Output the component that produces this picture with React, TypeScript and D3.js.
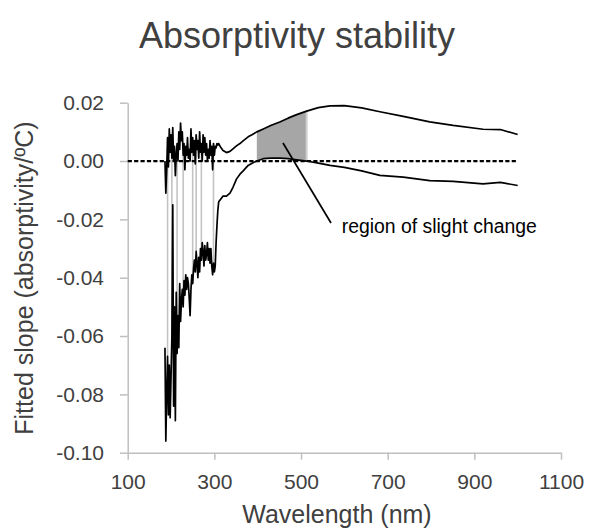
import React, { useEffect, useRef } from "react";
import * as d3 from "d3";

// Wavelength grid (nm)
const wavelengths: number[] = [
  186, 188, 190, 192, 194, 196, 198, 200, 202, 204, 206, 208, 210, 212, 214, 216, 218, 220,
  222, 224, 226, 228, 230, 232, 234, 236, 238, 240, 242, 244, 246, 248, 250, 252, 254, 256,
  258, 260, 262, 264, 266, 268, 270, 272, 274, 276, 278, 280, 282, 284, 286, 288, 290, 292,
  294, 296, 298, 300, 302, 304, 306, 308, 310,
  315, 320, 328, 336, 343, 351, 359, 367, 378, 390, 398, 413, 430, 451, 470, 490, 513, 540,
  567, 600, 640, 682, 736, 797, 851, 920, 960, 1000,
];

// Upper fitted slope (x 0.001 absorptivity/ºC)
const upperSeries: number[] = [
  0.0, -11.0, -3, 8, -2, 11, 3, 9, 1, 11.5, 0, 5, -5, 2, 6, 0, 10, 4,
  13, 7, 10, 2, 6, -3, 5, 2, 8, 1, 4, 0, 11, 3, 8, 2, 7, -1,
  9, 4, 7, 1, 10, 3, 6, 0, 9, 3, 8, 2, 6, 0, 4, 1, 7, 2,
  5, -3, 6, 2, 5, 4.5, 6, 5.5, 6,
  4.6, 3.6, 2.9, 3.3, 4.2, 5.2, 6.0, 7.0, 8.3, 9.3, 10.0, 11.0, 12.2, 13.4, 14.7, 15.9, 17.1, 18.3,
  18.9, 19.0, 18.2, 16.9, 15.3, 13.4, 12.2, 10.9, 10.8, 9.1,
];

// Lower fitted slope (x 0.001 absorptivity/ºC)
const lowerSeries: number[] = [
  -64, -96, -80, -67, -87, -70, -88, -74, -60, -15, -84, -50, -89, -45, -66, -53, -64, -42,
  -55, -48, -44, -50, -41, -46, -39, -44, -40, -42, -47, -53, -44, -39, -42, -37, -34, -38,
  -31, -35, -40, -33, -38, -30, -34, -28, -31, -36, -29, -34, -32, -28, -34, -30, -35, -30,
  -36, -39, -35, -38, -36, -28, -22, -17, -14,
  -13, -12, -12, -11, -9, -6.2, -4.5, -3.3, -1.5, -0.5, 0, 0.8, 1.0, 1.0, 0.8, 0.4, 0, -0.7,
  -1.5, -2.2, -3.4, -4.9, -5.5, -6.7, -7.0, -7.8, -7.3, -8.4,
];

// Wavelengths with drop lines between the two curves
const dropWavelengths: number[] = [192, 202, 214, 228, 250, 258, 270, 298];

// Shaded "region of slight change"
const regionRange: number[] = [398, 513];

const xTicks: number[] = [100, 300, 500, 700, 900, 1100];
const yTicks: number[] = [0.02, 0.0, -0.02, -0.04, -0.06, -0.08, -0.1];

const TITLE = "Absorptivity stability";
const X_TITLE = "Wavelength (nm)";
const Y_TITLE = "Fitted slope (absorptivity/ºC)";
const NOTE = "region of slight change";

const FONT = "'Liberation Sans', Arial, sans-serif";

export default function App() {
  const xAxisRef = useRef<SVGGElement>(null);
  const yAxisRef = useRef<SVGGElement>(null);

  const x = d3.scaleLinear().domain([100, 1100]).range([127.7, 561]);
  const y = d3.scaleLinear().domain([-0.1, 0.02]).range([452.7, 102.7]);

  const pts = wavelengths.map((w, i) => ({
    w,
    u: upperSeries[i] / 1000,
    l: lowerSeries[i] / 1000,
  }));

  const line = d3.line<{ w: number; v: number }>().x((d) => x(d.w)).y((d) => y(d.v));
  const upperPath = line(pts.map((p) => ({ w: p.w, v: p.u }))) || "";
  const lowerPath = line(pts.map((p) => ({ w: p.w, v: p.l }))) || "";

  const regionPts = pts.filter((p) => p.w >= regionRange[0] && p.w <= regionRange[1]);
  const area = d3
    .area<{ w: number; u: number; l: number }>()
    .x((d) => x(d.w))
    .y0((d) => y(d.l))
    .y1((d) => y(d.u));
  const regionPath = area(regionPts) || "";

  const interp = (arr: number[], w: number) => {
    const i = d3.bisectLeft(wavelengths, w);
    if (wavelengths[i] === w) return arr[i] / 1000;
    const w0 = wavelengths[i - 1], w1 = wavelengths[i];
    const t = (w - w0) / (w1 - w0);
    return (arr[i - 1] + t * (arr[i] - arr[i - 1])) / 1000;
  };

  const yFmt = (d: d3.NumberValue) => (+d).toFixed(2);

  useEffect(() => {
    if (xAxisRef.current) {
      const g = d3.select(xAxisRef.current);
      g.selectAll("*").remove();
      g.call(
        d3.axisBottom(x).tickValues(xTicks).tickSize(7).tickSizeOuter(0).tickPadding(14.7).tickFormat((d) => String(d))
      );
      g.select(".domain").attr("stroke", "#bfbfbf").attr("stroke-width", 1.5);
      g.selectAll(".tick line").attr("stroke", "#bfbfbf").attr("stroke-width", 1.5);
      g.selectAll(".tick text").attr("fill", "#404040").attr("font-size", 21).attr("font-family", FONT);
    }
    if (yAxisRef.current) {
      const g = d3.select(yAxisRef.current);
      g.selectAll("*").remove();
      g.call(
        d3.axisLeft(y).tickValues(yTicks).tickSize(7.7).tickSizeOuter(0).tickPadding(16).tickFormat(yFmt)
      );
      g.select(".domain").attr("stroke", "#bfbfbf").attr("stroke-width", 1.5);
      g.selectAll(".tick line").attr("stroke", "#bfbfbf").attr("stroke-width", 1.5);
      g.selectAll(".tick text").attr("fill", "#404040").attr("font-size", 21).attr("font-family", FONT);
    }
  });

  return (
    <svg
      width={590}
      height={528}
      style={{ position: "fixed", left: 0, top: 0, background: "#fff" }}
      fontFamily={FONT}
    >
      <rect x={0} y={0} width={590} height={528} fill="#fff" />
      <text x={297} y={48} textAnchor="middle" fontSize={36} fill="#404040">
        {TITLE}
      </text>

      {/* drop lines */}
      {dropWavelengths.map((w) => (
        <line
          key={w}
          x1={x(w)}
          x2={x(w)}
          y1={y(interp(upperSeries, w))}
          y2={y(interp(lowerSeries, w))}
          stroke="#c4c4c4"
          strokeWidth={1.6}
        />
      ))}

      {/* shaded region */}
      <path d={regionPath} fill="#a6a6a6" stroke="none" />
      <line
        x1={x(regionRange[1])}
        x2={x(regionRange[1])}
        y1={y(interp(upperSeries, regionRange[1]))}
        y2={y(interp(lowerSeries, regionRange[1]))}
        stroke="#d0d0d0"
        strokeWidth={2}
      />

      <g ref={yAxisRef} transform={`translate(${x(100)},0)`} />
      <g ref={xAxisRef} transform={`translate(0,${y(-0.1)})`} />

      {/* zero reference line */}
      <line
        x1={x(100)}
        x2={x(1000)}
        y1={y(0)}
        y2={y(0)}
        stroke="#000"
        strokeWidth={2.2}
        strokeDasharray="4.2,2.2"
      />

      <path d={upperPath} fill="none" stroke="#000" strokeWidth={1.7} strokeLinejoin="round" />
      <path d={lowerPath} fill="none" stroke="#000" strokeWidth={1.7} strokeLinejoin="round" />

      {/* annotation */}
      <line x1={283} y1={143} x2={331} y2={223} stroke="#000" strokeWidth={1.7} />
      <text x={341.7} y={233} fontSize={19.4} fill="#000">
        {NOTE}
      </text>

      <text x={337} y={523} textAnchor="middle" fontSize={25} fill="#404040">
        {X_TITLE}
      </text>
      <text
        transform={`translate(33,278) rotate(-90)`}
        textAnchor="middle"
        fontSize={25}
        fill="#404040"
      >
        {Y_TITLE}
      </text>
    </svg>
  );
}
